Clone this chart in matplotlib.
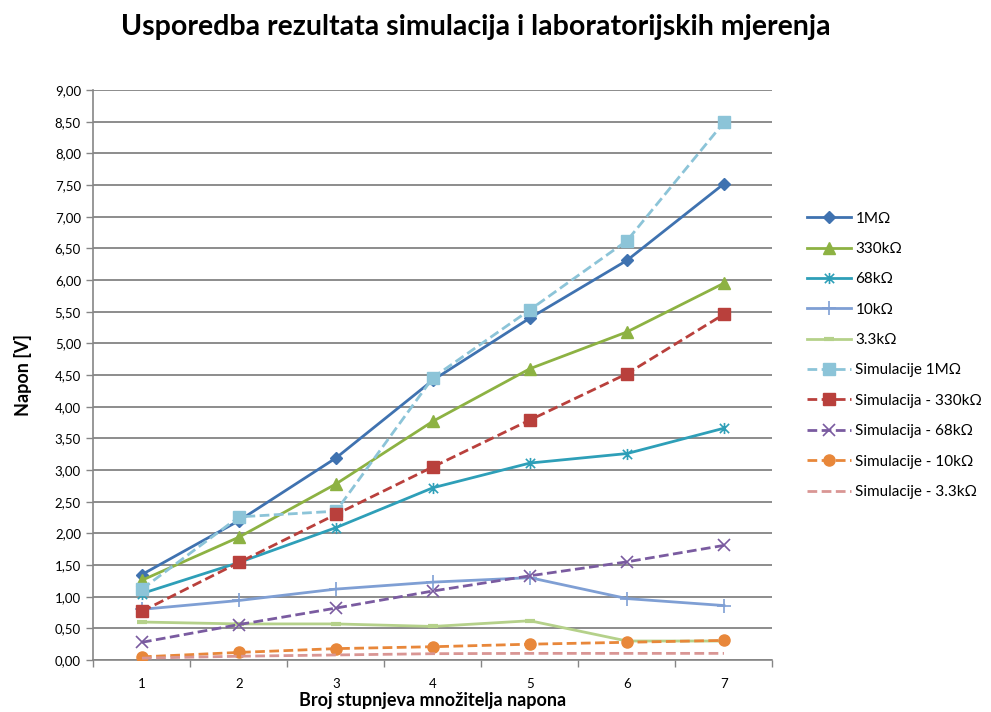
import numpy as np
import matplotlib
matplotlib.use("Agg")
import matplotlib.pyplot as plt
from matplotlib.path import Path

plt.rcParams['font.family'] = ['Lato', 'DejaVu Sans']

stages = [1, 2, 3, 4, 5, 6, 7]

# measured voltages [V]
meas_1M = [1.35, 2.20, 3.19, 4.42, 5.40, 6.31, 7.52]
meas_330k = [1.26, 1.94, 2.78, 3.77, 4.60, 5.18, 5.95]
meas_68k = [1.05, 1.54, 2.09, 2.72, 3.11, 3.26, 3.66]
meas_10k = [0.80, 0.94, 1.12, 1.23, 1.30, 0.97, 0.86]
meas_3k3 = [0.60, 0.57, 0.57, 0.53, 0.62, 0.30, 0.30]

# simulated voltages [V]
sim_1M = [1.12, 2.26, 2.35, 4.46, 5.53, 6.62, 8.49]
sim_330k = [0.77, 1.54, 2.30, 3.05, 3.79, 4.52, 5.46]
sim_68k = [0.28, 0.56, 0.82, 1.09, 1.33, 1.55, 1.81]
sim_10k = [0.05, 0.12, 0.18, 0.21, 0.25, 0.28, 0.31]
sim_3k3 = [0.03, 0.06, 0.08, 0.10, 0.105, 0.105, 0.105]

# asterisk marker: an "x" with a vertical bar through it
star = Path([(-1, -1), (1, 1), (-1, 1), (1, -1), (0, -1.2), (0, 1.2)],
            [Path.MOVETO, Path.LINETO, Path.MOVETO, Path.LINETO, Path.MOVETO, Path.LINETO])

dash = (0, (3.5, 1.6))
series = [
    ("1MΩ", meas_1M, dict(color="#3F72B0", marker="D", ms=6.5, ls="-")),
    ("330kΩ", meas_330k, dict(color="#8DB243", marker="^", ms=8.5, ls="-")),
    ("68kΩ", meas_68k, dict(color="#2E9FB8", marker=star, ms=8, mew=1.2, mfc="none", ls="-")),
    ("10kΩ", meas_10k, dict(color="#7F9FD4", marker="+", ms=10, mew=1.2, ls="-")),
    ("3.3kΩ", meas_3k3, dict(color="#B5D18A", marker="_", ms=7, mew=3, ls="-")),
    ("Simulacije 1MΩ", sim_1M, dict(color="#8CC4D8", marker="s", ms=8.5, ls=dash)),
    ("Simulacija - 330kΩ", sim_330k, dict(color="#B9403C", marker="s", ms=8.5, ls=dash)),
    ("Simulacija - 68kΩ", sim_68k, dict(color="#7A5BA0", marker="x", ms=8, mew=1.2, ls=dash)),
    ("Simulacije - 10kΩ", sim_10k, dict(color="#E8873A", marker="o", ms=8, ls=dash)),
    ("Simulacije - 3.3kΩ", sim_3k3, dict(color="#D99694", marker=None, ls=dash)),
]

fig = plt.figure(figsize=(9.91, 7.12), dpi=100)
ax = fig.add_axes([0.0943, 0.073, 0.6852, 0.8006])

for label, vals, style in series:
    ax.plot(stages, vals, label=label, lw=2.0, zorder=3, **style)

ax.set_xlim(0.5, 7.5)
ax.set_ylim(0, 9)
yt = np.arange(0, 9.01, 0.5)
ax.set_yticks(yt)
ax.set_yticklabels([f"{v:.2f}".replace(".", ",") for v in yt])
ax.set_xticks(stages)
ax.set_xticks(np.arange(0.5, 7.6, 1.0), minor=True)
ax.tick_params(axis='x', which='major', length=0, pad=13, labelsize=9.5)
ax.tick_params(axis='x', which='minor', length=5, color="#868686", width=1)
ax.tick_params(axis='y', length=5, color="#868686", width=1, labelsize=9.5, pad=4)

ax.grid(axis='y', color="#8C8C8C", lw=1.4, zorder=0)
for side in ("top", "right"):
    ax.spines[side].set_visible(False)
for side in ("left", "bottom"):
    ax.spines[side].set_color("#868686")
    ax.spines[side].set_linewidth(1.2)

ax.set_ylabel("Napon [V]", fontsize=13, fontweight='bold', labelpad=16)
ax.set_xlabel("Broj stupnjeva množitelja napona", fontsize=13, fontweight='bold')
ax.xaxis.set_label_coords(0.5, -0.056)
fig.suptitle("Usporedba rezultata simulacija i laboratorijskih mjerenja",
             fontsize=20.5, fontweight='bold', x=0.48, y=0.98)

fig.legend(loc='center left', bbox_to_anchor=(0.8, 0.501), frameon=False,
           fontsize=11, handlelength=2.9, handletextpad=0.3, labelspacing=1.07)

fig.savefig("out.png", dpi=100)
